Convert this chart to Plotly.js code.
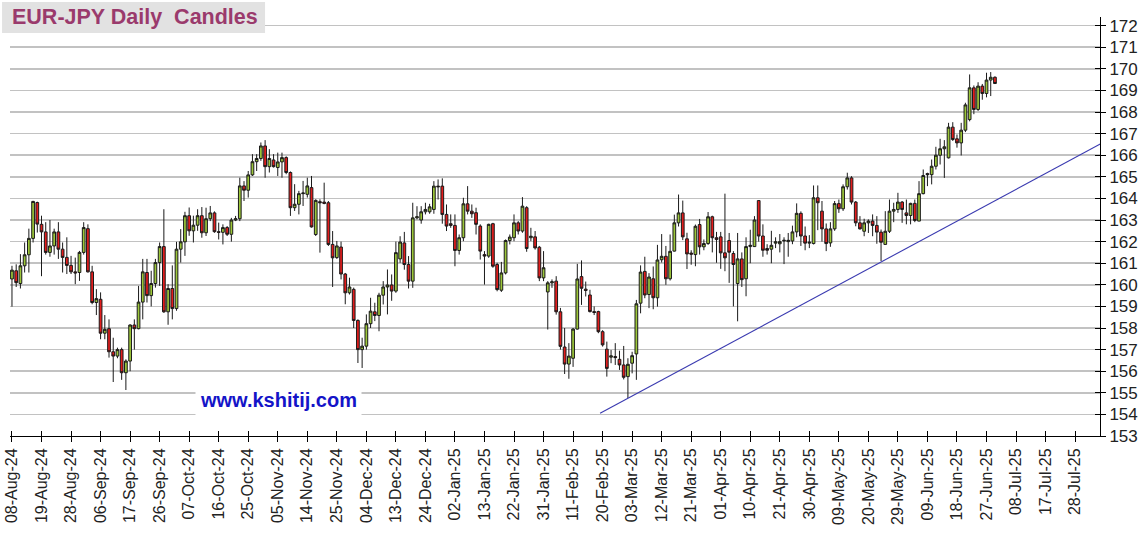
<!DOCTYPE html>
<html>
<head>
<meta charset="utf-8">
<script src="https://cdn.plot.ly/plotly-3.0.1.min.js"></script>
<style>
  html, body { margin: 0; padding: 0; background: #ffffff; }
  #chart { width: 1148px; height: 542px; }
</style>
</head>
<body>
<div id="chart"></div>
<script>
// Daily EUR-JPY candles, one per weekday starting 08-Aug-24 (index 0)
const opens = [
  160.27,160.65,160.06,160.88,161.39,162.15,163.81,162.80,162.45,161.50,
  161.80,162.45,161.65,161.27,160.90,160.60,160.57,161.50,162.60,160.60,
  159.18,159.33,157.76,157.97,156.90,156.70,157.00,155.93,156.47,158.14,
  157.97,159.20,160.57,159.50,160.06,161.03,161.77,158.75,159.83,158.90,
  161.65,161.99,163.20,162.50,162.76,163.20,162.41,163.06,163.33,162.46,
  162.43,162.65,162.34,163.00,163.06,164.58,164.38,165.09,165.70,165.85,
  166.43,165.47,165.78,165.43,165.69,165.89,165.20,163.57,163.73,164.22,
  164.19,164.50,162.33,163.85,163.83,163.80,161.87,161.26,161.75,160.50,
  159.63,159.79,158.35,157.00,157.16,158.20,158.75,158.58,159.52,159.90,
  159.99,159.71,161.20,161.94,160.94,160.17,163.10,163.00,163.38,163.38,
  163.49,164.57,164.57,163.26,162.83,162.75,161.59,162.18,163.75,163.41,
  163.34,162.72,161.40,161.33,162.83,160.94,159.75,160.55,162.05,162.18,
  162.87,162.49,163.57,162.18,162.22,161.74,160.32,159.67,160.09,160.17,
  158.75,157.12,156.33,156.60,157.95,160.38,159.80,159.53,158.76,158.76,
  157.83,157.02,156.65,156.68,156.55,156.29,155.75,156.37,156.80,159.15,
  160.62,159.55,160.28,159.40,161.16,161.32,160.28,161.56,162.87,163.33,
  162.13,161.47,161.40,162.79,161.76,161.91,163.15,162.18,162.22,161.48,
  162.05,161.45,160.06,161.20,160.28,161.77,161.77,163.90,162.26,161.68,
  161.65,161.93,161.90,162.03,162.00,162.03,162.45,163.31,162.26,161.93,
  161.91,164.03,163.41,162.59,161.94,162.59,163.76,163.52,164.54,164.95,
  163.83,162.87,162.48,162.87,162.95,162.75,162.44,161.87,162.48,163.41,
  163.49,163.83,163.33,163.21,163.77,162.95,164.22,165.15,165.10,165.49,
  166.00,166.30,165.88,167.30,166.76,166.57,167.16,167.65,169.12,168.12,
  169.20,168.86,169.48,169.61
];
const highs = [
  160.88,160.95,161.42,161.96,162.60,163.89,163.85,163.20,162.90,163.00,
  162.60,162.90,161.96,162.20,161.34,161.26,161.57,162.90,162.80,160.88,
  159.80,159.65,158.60,158.40,157.55,157.09,157.09,156.55,158.17,158.40,
  159.95,161.20,161.20,160.65,161.20,161.96,163.50,160.03,160.90,161.99,
  162.58,163.38,163.58,163.20,163.50,163.60,163.57,163.65,163.40,162.88,
  162.80,162.72,163.10,163.19,164.96,164.80,165.27,166.05,166.05,166.59,
  166.70,166.28,166.05,166.12,166.12,165.95,165.25,164.66,164.35,164.81,
  164.96,165.04,163.96,163.96,164.73,163.88,162.49,162.03,162.00,160.55,
  160.33,159.87,158.40,157.55,158.63,159.40,159.17,159.63,160.17,160.71,
  160.48,162.00,162.25,162.45,161.33,163.80,163.64,163.64,163.80,163.75,
  164.80,164.88,164.93,163.72,163.26,163.26,162.33,164.03,164.57,163.72,
  163.57,162.80,161.56,162.83,162.87,161.02,161.06,162.10,162.33,163.26,
  162.95,164.06,163.64,162.64,162.49,161.80,161.56,160.17,160.25,160.40,
  158.93,158.00,157.30,158.00,160.97,161.13,160.15,159.77,159.00,158.80,
  157.90,157.37,156.98,157.30,156.95,157.17,156.60,156.90,159.30,160.90,
  161.30,160.54,160.85,161.85,162.35,161.80,162.33,163.25,164.18,163.90,
  162.41,161.60,162.79,163.05,162.10,163.37,163.20,162.45,162.45,164.22,
  162.40,161.56,162.40,161.50,162.20,162.55,163.18,163.92,162.80,161.88,
  162.50,162.20,162.35,162.20,162.40,162.74,163.77,163.40,162.70,162.30,
  164.60,164.60,163.88,162.84,162.90,163.88,163.95,164.65,165.19,165.03,
  163.88,163.18,163.06,163.03,163.26,163.18,162.56,163.41,163.95,163.80,
  164.26,163.88,163.95,163.80,163.95,164.80,165.34,165.19,165.80,166.39,
  166.76,166.70,167.50,167.53,166.96,167.50,168.43,169.74,169.23,169.38,
  169.30,169.82,169.85,169.65
];
const lows = [
  158.99,159.90,159.83,160.57,160.57,161.96,162.42,160.40,161.40,161.30,
  161.40,161.20,160.57,160.50,160.50,160.03,160.18,161.40,160.57,159.10,
  158.60,157.48,157.48,156.63,155.50,156.60,155.60,155.13,156.00,157.00,
  157.94,158.40,159.18,159.00,159.87,159.95,158.70,158.15,158.40,158.80,
  161.03,161.34,162.27,161.96,162.50,162.18,162.26,162.95,162.41,162.10,
  161.87,162.26,162.00,162.95,162.95,163.88,164.04,165.04,165.27,165.74,
  164.96,165.20,165.43,165.04,164.96,165.12,163.19,163.42,163.26,163.65,
  164.04,162.65,162.26,161.49,163.73,161.80,159.90,161.20,160.25,159.10,
  159.55,158.00,156.38,156.15,157.00,158.00,158.32,157.85,159.09,158.63,
  159.26,159.63,161.02,160.70,159.83,159.86,163.03,162.83,163.26,163.29,
  163.29,163.95,162.83,162.49,162.64,160.86,161.40,162.02,163.26,163.10,
  162.33,161.17,160.01,161.25,160.79,159.70,159.67,160.48,161.87,162.02,
  162.33,162.41,161.53,162.02,161.63,160.17,160.17,157.93,159.86,158.62,
  157.00,155.87,155.65,156.20,157.93,159.07,159.46,158.72,158.60,157.76,
  157.14,155.75,156.37,156.29,156.06,155.62,154.76,155.90,155.60,158.68,
  159.38,158.92,158.87,158.99,161.03,160.00,160.20,161.54,162.70,162.07,
  160.73,160.93,160.86,161.40,161.60,161.85,161.50,161.02,160.74,160.63,
  160.09,159.00,158.31,159.90,159.47,161.00,161.75,162.00,161.30,161.40,
  161.00,161.70,161.50,160.96,161.30,161.88,162.20,161.80,161.60,161.70,
  161.87,162.53,162.00,161.56,161.76,162.50,163.33,163.42,164.41,163.72,
  162.71,162.56,162.25,162.40,162.25,161.90,161.10,161.87,162.40,162.90,
  163.33,162.87,162.80,162.80,162.90,162.95,164.19,164.57,164.65,165.34,
  165.57,164.95,165.85,166.66,166.35,165.99,167.07,167.57,167.90,168.05,
  168.57,168.68,168.74,169.32
];
const closes = [
  160.68,160.10,160.88,161.39,162.15,163.86,162.81,162.45,161.50,161.80,
  162.45,161.65,161.27,160.90,160.60,160.55,161.50,162.65,160.60,159.18,
  159.36,157.76,157.94,156.90,156.70,157.00,155.93,156.47,158.14,157.97,
  159.20,160.60,159.50,160.06,161.03,161.77,158.75,159.83,158.90,161.65,
  161.99,163.20,162.50,162.76,163.20,162.41,163.06,163.33,162.46,162.43,
  162.65,162.34,163.00,163.06,164.58,164.38,165.09,165.70,165.85,166.43,
  165.47,165.85,165.47,165.69,165.89,165.20,163.57,163.73,164.22,164.25,
  164.58,162.68,163.91,163.80,163.77,161.87,161.25,161.80,160.50,159.63,
  159.90,158.35,157.00,157.16,158.20,158.78,158.58,159.52,159.90,159.99,
  159.71,161.49,161.98,160.94,160.17,163.10,163.15,163.38,163.49,163.61,
  164.57,164.54,163.26,162.72,162.75,161.59,162.18,163.75,163.41,163.29,
  162.80,161.56,161.33,162.80,160.86,159.78,160.55,162.05,162.21,162.87,
  162.49,163.64,161.68,162.25,161.71,160.32,160.79,160.09,160.14,158.75,
  157.15,156.33,156.70,157.95,160.27,159.84,159.74,158.76,158.72,157.83,
  157.22,156.13,156.71,156.63,156.29,155.72,156.32,156.72,159.12,160.59,
  159.53,160.36,159.40,161.15,161.32,160.28,161.55,162.87,163.33,162.22,
  161.43,161.42,162.71,161.76,161.91,163.15,162.18,162.10,161.48,161.25,
  161.51,160.94,161.20,160.24,161.77,161.83,163.00,162.26,161.60,161.60,
  161.83,161.99,162.00,162.06,162.06,162.45,163.31,162.26,161.93,161.97,
  164.03,163.80,162.59,161.91,162.59,163.76,163.52,164.54,164.95,163.83,
  162.87,162.59,162.87,162.95,162.75,162.44,161.97,162.48,163.41,163.49,
  163.83,163.49,163.21,163.77,162.98,164.22,165.06,165.10,165.49,166.00,
  166.30,166.39,167.30,166.73,166.57,167.16,168.33,169.12,168.12,169.20,
  168.86,169.48,169.61,169.32
];

// X-axis labels, one every 7 weekdays
const tickLabels = [
  "08-Aug-24","19-Aug-24","28-Aug-24","06-Sep-24","17-Sep-24","26-Sep-24",
  "07-Oct-24","16-Oct-24","25-Oct-24","05-Nov-24","14-Nov-24","25-Nov-24",
  "04-Dec-24","13-Dec-24","24-Dec-24","02-Jan-25","13-Jan-25","22-Jan-25",
  "31-Jan-25","11-Feb-25","20-Feb-25","03-Mar-25","12-Mar-25","21-Mar-25",
  "01-Apr-25","10-Apr-25","21-Apr-25","30-Apr-25","09-May-25","20-May-25",
  "29-May-25","09-Jun-25","18-Jun-25","27-Jun-25","08-Jul-25","17-Jul-25",
  "28-Jul-25"
];
const tickStep = 7;

// Support trend line (weekday index, price)
const trendDays = [139.4, 261.0];
const trendVals = [154.05, 166.84];

const days = opens.map((_, i) => i);
const tickVals = tickLabels.map((_, i) => i * tickStep);

const FONT = "Liberation Sans, Arial, Helvetica, sans-serif";

const traces = [
  {
    type: "candlestick",
    x: days, open: opens, high: highs, low: lows, close: closes,
    increasing: { line: { color: "#1a1a1a", width: 1 }, fillcolor: "#9cc63a" },
    decreasing: { line: { color: "#1a1a1a", width: 1 }, fillcolor: "#e21d1d" },
    whiskerwidth: 0,
    hoverinfo: "skip",
    showlegend: false
  },
  {
    type: "scatter", mode: "lines",
    x: trendDays, y: trendVals,
    line: { color: "#3a3ab0", width: 1.1 },
    hoverinfo: "skip", showlegend: false
  },
  { type: "scatter", x: [], y: [], xaxis: "x2", yaxis: "y2", showlegend: false }
];

const xBase = {
  range: [-0.47, 257.9],
  tickmode: "array",
  tickvals: tickVals,
  zeroline: false,
  showgrid: false,
  fixedrange: true
};
const yBase = {
  range: [153, 172.4],
  tickmode: "linear",
  tick0: 153,
  dtick: 1,
  zeroline: false,
  fixedrange: true
};

const layout = {
  width: 1148,
  height: 542,
  margin: { l: 10, r: 48, t: 17, b: 106, pad: 0 },
  paper_bgcolor: "#ffffff",
  plot_bgcolor: "#ffffff",
  showlegend: false,
  boxgap: 0.08,
  xaxis: Object.assign({}, xBase, {
    ticktext: tickLabels,
    tickangle: -90,
    ticks: "outside",
    ticklen: 5,
    tickcolor: "#000",
    tickwidth: 1,
    showline: true,
    linecolor: "#000",
    linewidth: 1,
    tickfont: { family: FONT, size: 16, color: "#222" },
    rangeslider: { visible: false }
  }),
  xaxis2: Object.assign({}, xBase, {
    overlaying: "x",
    anchor: "y",
    side: "bottom",
    ticks: "inside",
    ticklen: 5,
    tickcolor: "#000",
    showticklabels: false,
    showline: false
  }),
  yaxis: Object.assign({}, yBase, {
    side: "right",
    ticks: "outside",
    ticklen: 5,
    tickcolor: "#000",
    showline: true,
    linecolor: "#000",
    linewidth: 1,
    showgrid: true,
    gridcolor: "#c2c2c2",
    gridwidth: 1.5,
    tickfont: { family: FONT, size: 17, color: "#222" }
  }),
  yaxis2: Object.assign({}, yBase, {
    overlaying: "y",
    anchor: "x",
    side: "right",
    ticks: "inside",
    ticklen: 5,
    tickcolor: "#000",
    showticklabels: false,
    showline: false,
    showgrid: false
  }),
  shapes: [
    {
      type: "rect", xref: "paper", yref: "paper",
      x0: -0.0073, x1: 0.234, y0: 0.9618, y1: 1.0358,
      fillcolor: "#e2e2e2", line: { width: 0 }, layer: "above"
    }
  ],
  annotations: [
    {
      xref: "paper", yref: "paper",
      x: 0.0, y: 0.999, xanchor: "left", yanchor: "middle",
      text: "<b>EUR-JPY Daily \u00a0Candles</b>",
      showarrow: false,
      font: { family: FONT, size: 21.5, color: "#9a3a6c" }
    },
    {
      xref: "x", yref: "y",
      x: 63.1, y: 154.67, xanchor: "center", yanchor: "middle",
      text: "<b>www.kshitij.com</b>",
      showarrow: false,
      bgcolor: "#ffffff",
      borderpad: 4,
      font: { family: FONT, size: 20, color: "#1414c8" }
    }
  ]
};

Plotly.newPlot("chart", traces, layout, { staticPlot: true, displayModeBar: false });
</script>
</body>
</html>
